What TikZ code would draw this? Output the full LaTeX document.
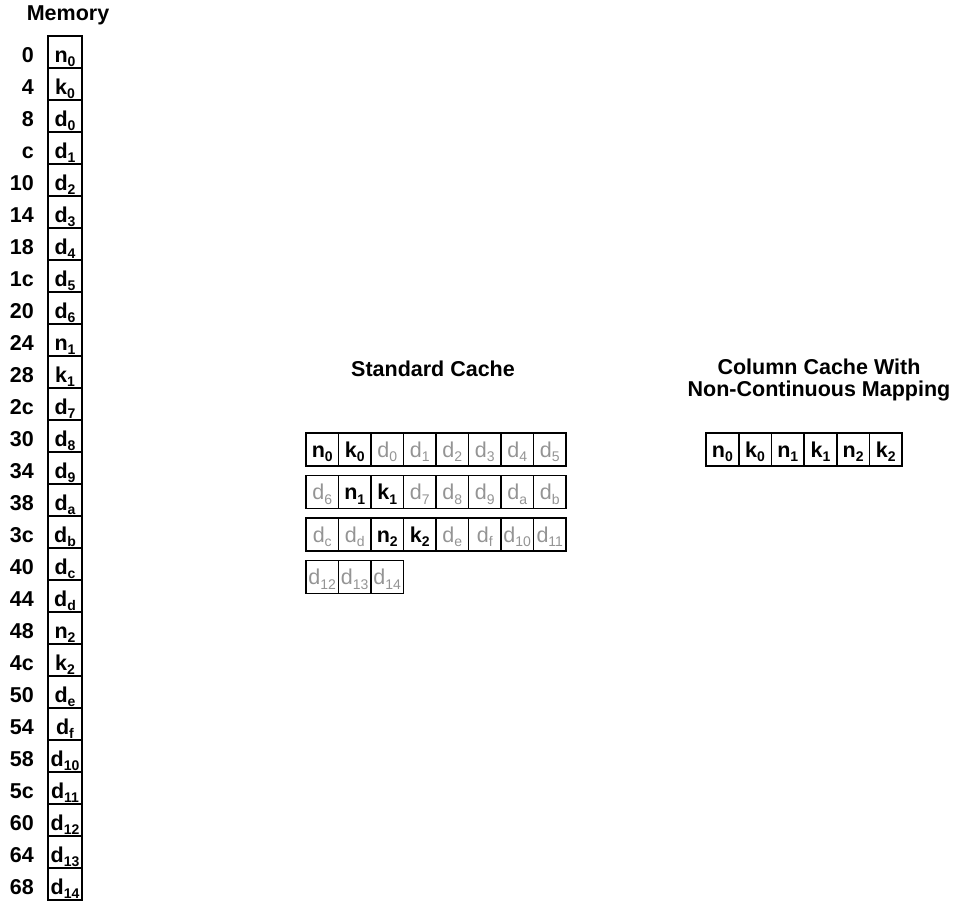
\documentclass[tikz,border=0pt]{standalone}
\usepackage{fontspec}
\setmainfont{Liberation Sans}
\newcommand\cel[2]{#1\smash{\raisebox{-4.5pt}{\fontsize{14}{14}\selectfont #2}}}
\begin{document}
\begin{tikzpicture}[x=1pt,y=-1pt,
  every node/.style={font=\fontsize{21.5}{22}\selectfont\bfseries},
  memcell/.style={draw,line width=1.6pt,minimum width=34pt,minimum height=32pt,inner sep=0pt,text height=26pt,text depth=6pt},
  cachecell/.style={draw,line width=1.6pt,minimum width=32.5pt,minimum height=33pt,inner sep=0pt,text height=24pt,text depth=9pt},
  lightd/.style={text=black!42,font=\fontsize{21.5}{22}\selectfont\mdseries},
  addr/.style={anchor=base east,inner sep=0pt},
  title/.style={align=center,inner sep=0pt}]
\useasboundingbox (0,0) rectangle (956,900);
% Memory
\node[title] (memtitle) at (68,15) {Memory};
\foreach \a/\l/\s [count=\i from 0] in {0/n/0,4/k/0,8/d/0,c/d/1,10/d/2,14/d/3,18/d/4,1c/d/5,20/d/6,24/n/1,28/k/1,2c/d/7,30/d/8,34/d/9,38/d/a,3c/d/b,40/d/c,44/d/d,48/n/2,4c/k/2,50/d/e,54/d/f,58/d/10,5c/d/11,60/d/12,64/d/13,68/d/14}{
  \node[memcell] (m\i) at (65,{52+32*\i}) {\cel{\l}{\s}};
  \node[addr] (a\i) at (34,{62+32*\i}) {\a};
}
% Standard cache
\node[title] (sctitle) at (433,369) {Standard Cache};
\foreach \l/\s/\st [count=\i from 0] in {n/0/,k/0/,d/0/lightd,d/1/lightd,d/2/lightd,d/3/lightd,d/4/lightd,d/5/lightd,
  d/6/lightd,n/1/,k/1/,d/7/lightd,d/8/lightd,d/9/lightd,d/a/lightd,d/b/lightd,
  d/c/lightd,d/d/lightd,n/2/,k/2/,d/e/lightd,d/f/lightd,d/10/lightd,d/11/lightd,
  d/12/lightd,d/13/lightd,d/14/lightd}{
  \pgfmathtruncatemacro\r{int(\i/8)}
  \pgfmathtruncatemacro\c{mod(\i,8)}
  \node[cachecell,\st] (s\i) at ({322.25+32.5*\c},{449.5+42.5*\r}) {\cel{\l}{\s}};
}
% Column cache
\node[title] (cctitle) at (819,380) {Column Cache With\\Non-Continuous Mapping};
\foreach \l/\s [count=\i from 0] in {n/0,k/0,n/1,k/1,n/2,k/2}{
  \node[cachecell] (c\i) at ({722.35+32.7*\i},449.5) {\cel{\l}{\s}};
}
\end{tikzpicture}
\end{document}
